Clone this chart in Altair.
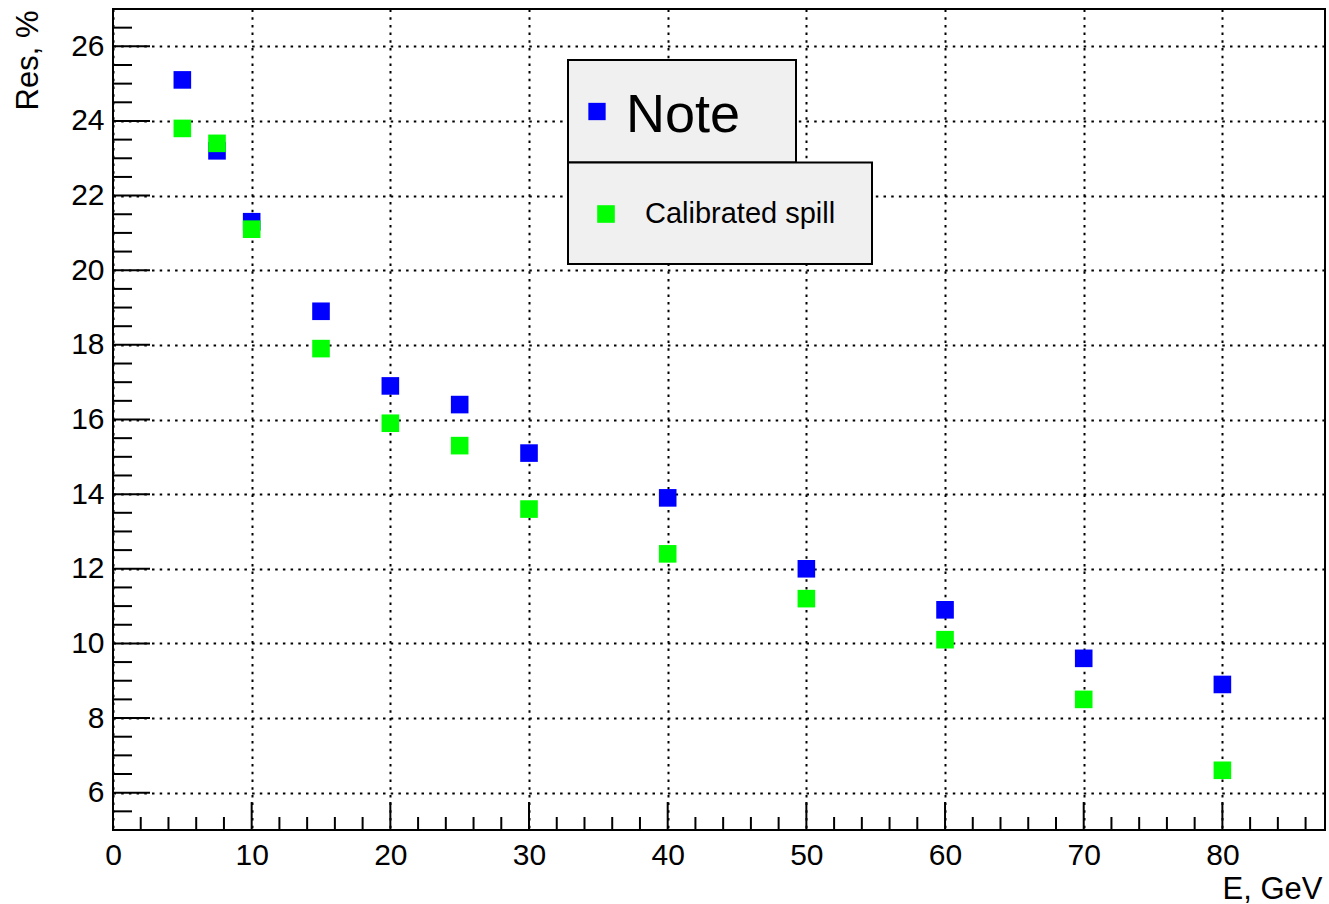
import altair as alt
import pandas as pd

# ---- data ----
energy = [5, 7.5, 10, 15, 20, 25, 30, 40, 50, 60, 70, 80]
res_note = [25.1, 23.2, 21.3, 18.9, 16.9, 16.4, 15.1, 13.9, 12.0, 10.9, 9.6, 8.9]
res_calib = [23.8, 23.4, 21.1, 17.9, 15.9, 15.3, 13.6, 12.4, 11.2, 10.1, 8.5, 6.6]
series_names = ["Note", "Calibrated spill"]
series_colors = ["#0000ff", "#00ff00"]

x_major = [0, 10, 20, 30, 40, 50, 60, 70, 80]
y_major = [6, 8, 10, 12, 14, 16, 18, 20, 22, 24, 26]
x_minor = [v for v in range(2, 88, 2) if v % 10 != 0]
y_minor = [v / 2 for v in range(11, 54) if v % 4 != 0]

FONT = "Liberation Sans"
W, H = 1212, 821

pts = pd.DataFrame({
    "E": energy + energy,
    "Res": res_note + res_calib,
    "series": [series_names[0]] * len(energy) + [series_names[1]] * len(energy),
})

xs = alt.Scale(domain=[0, 87.4], nice=False, zero=False)
ys = alt.Scale(domain=[5, 27], nice=False, zero=False)

common_axis = dict(
    ticks=False, domain=False, grid=True, gridColor="black", gridDash=[2.5, 5.2],
    gridWidth=2, labelFont=FONT, labelFontSize=30, labelColor="black",
    labelFlush=False, labelOverlap=False, titleFont=FONT, titleFontSize=31,
    titleFontWeight="normal", titleColor="black", format="d",
)

x_axis = alt.Axis(
    values=x_major, labelPadding=10, labelAngle=0,
    title="E, GeV", titleAlign="right", titleAnchor="end",
    titleX=1209, titleY=68, titleBaseline="alphabetic", **common_axis,
)
y_axis = alt.Axis(
    values=y_major, labelPadding=9,
    title="Res, %", titleAngle=270, titleAlign="right", titleAnchor="end",
    titleX=-76, titleY=1, titleBaseline="alphabetic", **common_axis,
)

points = alt.Chart(pts).mark_square(size=310, opacity=1, filled=True).encode(
    x=alt.X("E:Q", scale=xs, axis=x_axis),
    y=alt.Y("Res:Q", scale=ys, axis=y_axis),
    color=alt.Color("series:N", scale=alt.Scale(domain=series_names, range=series_colors), legend=None),
)

def xticks(vals, length):
    return alt.Chart(pd.DataFrame({"E": vals})).mark_rule(color="black", strokeWidth=2).encode(
        x=alt.X("E:Q", scale=xs, axis=x_axis),
        y=alt.value(H), y2=alt.value(H - length),
    )

def yticks(vals, length):
    return alt.Chart(pd.DataFrame({"Res": vals})).mark_rule(color="black", strokeWidth=2).encode(
        y=alt.Y("Res:Q", scale=ys, axis=y_axis),
        x=alt.value(0), x2=alt.value(length),
    )

# ---- legend boxes (decoration) ----
one = pd.DataFrame({"k": [0]})
box1 = alt.Chart(one).mark_rect(fill="#f0f0f0", stroke="black", strokeWidth=2).encode(
    x=alt.value(455), x2=alt.value(683), y=alt.value(51), y2=alt.value(153.5))
box2 = alt.Chart(one).mark_rect(fill="#f0f0f0", stroke="black", strokeWidth=2).encode(
    x=alt.value(455), x2=alt.value(759), y=alt.value(153.5), y2=alt.value(255))

leg = pd.DataFrame({"name": series_names, "color": series_colors})
leg1 = leg.iloc[[0]]
leg2 = leg.iloc[[1]]

sq1 = alt.Chart(leg1).mark_square(size=300, opacity=1).encode(
    x=alt.value(484), y=alt.value(102.5), color=alt.Color("color:N", scale=None))
sq2 = alt.Chart(leg2).mark_square(size=310, opacity=1).encode(
    x=alt.value(493), y=alt.value(205), color=alt.Color("color:N", scale=None))
t1 = alt.Chart(leg1).mark_text(font=FONT, fontSize=54, align="left", baseline="alphabetic", color="black").encode(
    x=alt.value(513), y=alt.value(122.7), text="name:N")
t2 = alt.Chart(leg2).mark_text(font=FONT, fontSize=29, align="left", baseline="alphabetic", color="black").encode(
    x=alt.value(532), y=alt.value(213.7), text="name:N")

chart = alt.layer(
    points,
    xticks(x_major, 28), xticks(x_minor, 13),
    yticks(y_major, 37), yticks(y_minor, 19),
    box1, box2, sq1, sq2, t1, t2,
).properties(
    width=W, height=H,
    autosize=alt.AutoSizeParams(type="none"),
    padding={"left": 113, "top": 9, "right": 4, "bottom": 74},
    background="white",
).configure_view(stroke="black", strokeWidth=2)

chart.save("out.html", embed_options={"renderer": "svg", "actions": False})
